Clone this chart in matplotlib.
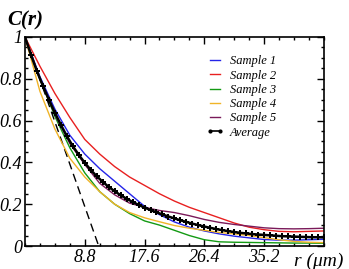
import numpy as np
import matplotlib
matplotlib.use("Agg")
import matplotlib.pyplot as plt
from matplotlib.ticker import MultipleLocator

plt.rcParams['font.family'] = ['Liberation Serif', 'DejaVu Serif']

# sample curves, read every 2.2 um
r_s = [0.0, 2.2, 4.4, 6.6, 8.8, 11.0, 13.2, 15.4, 17.6, 19.8, 22.0,
       24.2, 26.4, 28.6, 30.8, 33.0, 35.2, 37.4, 39.6, 41.8, 44.0]
sample1 = [1.0, 0.81, 0.655, 0.53, 0.44, 0.37, 0.31, 0.25, 0.19, 0.15, 0.115,
           0.09, 0.072, 0.058, 0.047, 0.039, 0.031, 0.028, 0.028, 0.030, 0.032]
sample2 = [1.0, 0.86, 0.73, 0.615, 0.51, 0.44, 0.38, 0.33, 0.29, 0.25, 0.215,
           0.185, 0.16, 0.135, 0.11, 0.09, 0.078, 0.07, 0.068, 0.07, 0.072]
sample3 = [1.0, 0.80, 0.62, 0.47, 0.35, 0.26, 0.20, 0.155, 0.12, 0.10, 0.075,
           0.05, 0.03, 0.02, 0.018, 0.017, 0.016, 0.015, 0.014, 0.014, 0.013]
sample4 = [1.0, 0.74, 0.56, 0.42, 0.33, 0.26, 0.20, 0.16, 0.135, 0.116, 0.098,
           0.085, 0.075, 0.065, 0.058, 0.05, 0.04, 0.03, 0.022, 0.018, 0.016]
sample5 = [1.0, 0.80, 0.63, 0.49, 0.39, 0.30, 0.245, 0.205, 0.185, 0.17, 0.16,
           0.145, 0.127, 0.113, 0.103, 0.095, 0.087, 0.083, 0.082, 0.083, 0.085]

# average, every 0.88 um
r_avg = np.arange(51) * 0.88
avg = [1.000, 0.915, 0.836, 0.766, 0.700, 0.638, 0.580, 0.526, 0.478, 0.436,
       0.398, 0.364, 0.334, 0.307, 0.283, 0.262, 0.243, 0.226, 0.211, 0.197,
       0.184, 0.172, 0.161, 0.151, 0.141, 0.132, 0.123, 0.115, 0.107, 0.100,
       0.093, 0.087, 0.081, 0.076, 0.071, 0.067, 0.063, 0.060, 0.057, 0.055,
       0.053, 0.051, 0.049, 0.047, 0.046, 0.045, 0.044, 0.043, 0.042, 0.042,
       0.041]

# tangent at origin
tan_r = [0.0, 10.85]
tan_c = [1.0, 0.0]

xticks = [8.8, 17.6, 26.4, 35.2]
xlabels = ['8.8', '17.6', '26.4', '35.2']
yticks = [0, 0.2, 0.4, 0.6, 0.8, 1.0]
ylabels = ['0', '0.2', '0.4', '0.6', '0.8', '1']

fig = plt.figure(figsize=(3.49, 2.69), dpi=100)
ax = fig.add_axes([0.0716, 0.0855, 0.8564, 0.777])

ax.plot(tan_r, tan_c, color='black', lw=1.0, ls=(0, (6, 3.5)))
ax.plot(r_s, sample1, color='#2424e8', lw=1.0, label='Sample 1')
ax.plot(r_s, sample2, color='#e82020', lw=1.0, label='Sample 2')
ax.plot(r_s, sample3, color='#139a13', lw=1.0, label='Sample 3')
ax.plot(r_s, sample4, color='#f0b428', lw=1.0, label='Sample 4')
ax.plot(r_s, sample5, color='#7a1a5a', lw=1.0, label='Sample 5')
ax.plot(r_avg, avg, color='black', lw=1.8, marker='P', ms=4.2, mew=0,
        label='Average')

ax.set_xlim(0, 44)
ax.set_ylim(0, 1)
ax.set_xticks(xticks)
ax.set_xticklabels(xlabels)
ax.set_yticks(yticks)
ax.set_yticklabels(ylabels)
ax.xaxis.set_minor_locator(MultipleLocator(2.2))
ax.yaxis.set_minor_locator(MultipleLocator(0.05))
ax.tick_params(which='both', direction='in', top=True, right=True, width=1.0)
ax.tick_params(which='major', length=5, labelsize=13, pad=2)
ax.tick_params(which='minor', length=2.5)
for lab in ax.get_xticklabels() + ax.get_yticklabels():
    lab.set_fontstyle('italic')
for s in ax.spines.values():
    s.set_linewidth(1.2)

leg = ax.legend(loc='upper left', bbox_to_anchor=(0.605, 0.912), frameon=False,
                prop={'style': 'italic', 'size': 9}, handlelength=1.4,
                handletextpad=0.5, labelspacing=0.18, numpoints=2,
                borderpad=0, borderaxespad=0)
leg.legend_handles[-1].set_marker('o')
leg.legend_handles[-1].set_markersize(3)
leg.legend_handles[-1].set_linewidth(1.2)

fig.text(0.02, 0.905, 'C(r)', fontsize=15, style='italic', weight='bold')
fig.text(0.842, 0.01, 'r (\u03bcm)', fontsize=14, style='italic')

fig.savefig('out.png', dpi=100)
